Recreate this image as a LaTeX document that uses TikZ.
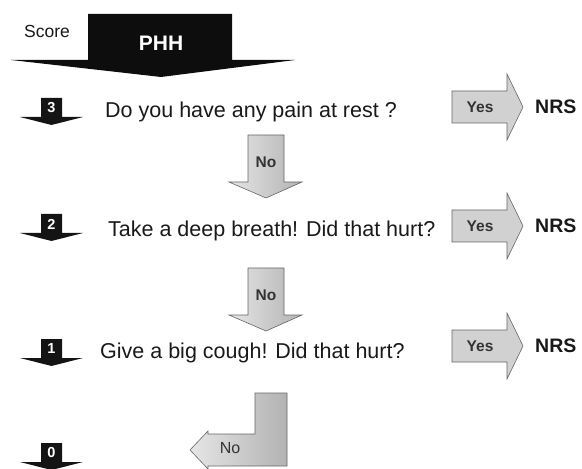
\documentclass[tikz,border=0pt]{standalone}
\usepackage{fontspec}
\setmainfont{Liberation Sans}
\newcommand\smallarrow[3]{%
  \fill[black!92] (41,#2) -- (62,#2) -- (62,#2+19) -- (83,#2+19) -- (51.5,#2+27) -- (20,#2+19) -- (41,#2+19) -- cycle;
  \node[numlab] (#1) at (51.5,#2+10) {#3};}
\newcommand\yesarrow[2]{%
  \draw[yesshape] (452,#2-16) -- (507,#2-16) -- (507,#2-33) -- (523,#2) -- (507,#2+33) -- (507,#2+16) -- (452,#2+16) -- cycle;
  \node[yeslab] (#1) at (480,#2) {Yes};
  \node[nrslab] (#1n) at (535,#2) {NRS};}
\newcommand\noarrow[2]{%
  \draw[grayarrow] (248,#2) -- (284,#2) -- (284,#2+47) -- (302,#2+47) -- (266,#2+63) -- (229,#2+47) -- (248,#2+47) -- cycle;
  \node[yeslab] (#1) at (266,#2+27) {No};}
\begin{document}
\begin{tikzpicture}[x=1bp,y=-1bp,
  qtext/.style={anchor=base west, inner sep=0pt, font=\fontsize{21.5bp}{26bp}\selectfont, text=black!90},
  numlab/.style={text=white, font=\bfseries\fontsize{14.5bp}{16bp}\selectfont, inner sep=0pt},
  yeslab/.style={font=\bfseries\fontsize{15.5bp}{17bp}\selectfont, text=black!80, inner sep=0pt},
  nrslab/.style={anchor=west, font=\bfseries\fontsize{19.5bp}{22bp}\selectfont, inner sep=0pt, text=black!90},
  grayarrow/.style={draw=black!60, line width=0.6pt, line join=miter, left color=black!10, right color=black!30},
  yesshape/.style={draw=black!60, line width=0.6pt, line join=miter, fill=black!18},
]
\useasboundingbox (0,0) rectangle (582,469);
% header
\fill[black!95] (88,14) -- (232,14) -- (232,60) -- (295,60) -- (161,77) -- (11,60) -- (88,60) -- cycle;
\node[font=\bfseries\fontsize{21bp}{24bp}\selectfont, text=white, inner sep=0pt] (phh) at (161,43) {PHH};
\node[font=\fontsize{17.5bp}{20bp}\selectfont, inner sep=0pt, text=black!90] (score) at (47,31) {Score};
% rows
\smallarrow{s3}{98}{3}
\node[qtext] (q1) at (105,118) {Do you have any pain at rest ?};
\yesarrow{y1}{107}
\noarrow{n1}{135}
\smallarrow{s2}{214}{2}
\node[qtext] (q2) at (108,237) {Take a deep breath! Did that hurt?};
\yesarrow{y2}{226}
\noarrow{n2}{268}
\smallarrow{s1}{339}{1}
\node[qtext] (q3) at (100,358) {Give a big cough! Did that hurt?};
\yesarrow{y3}{346}
% last
\draw[grayarrow] (255,393) -- (287,393) -- (287,466) -- (208,466) -- (208,469) -- (190,450) -- (208,431) -- (208,434) -- (255,434) -- cycle;
\node[yeslab, font=\fontsize{16bp}{18bp}\selectfont] (n3) at (230,448) {No};
\smallarrow{s0}{443}{0}
\end{tikzpicture}
\end{document}
